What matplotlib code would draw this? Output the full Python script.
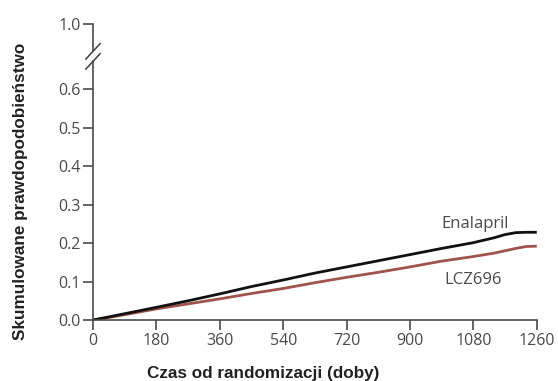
import numpy as np
import matplotlib.pyplot as plt

# time since randomization (days) and cumulative probability
days = [0, 60, 120, 180, 270, 360, 450, 540, 630, 720, 810, 900, 990, 1080, 1140, 1170, 1200, 1230, 1260]
enalapril = [0, 0.011, 0.022, 0.033, 0.050, 0.068, 0.087, 0.104, 0.122, 0.138, 0.154, 0.170,
             0.186, 0.201, 0.214, 0.222, 0.227, 0.228, 0.228]
lcz696 = [0, 0.009, 0.019, 0.029, 0.042, 0.055, 0.069, 0.082, 0.097, 0.111, 0.124, 0.138,
          0.153, 0.165, 0.174, 0.180, 0.186, 0.191, 0.192]

xticks = [0, 180, 360, 540, 720, 900, 1080, 1260]
yticks = [0.0, 0.1, 0.2, 0.3, 0.4, 0.5, 0.6]
top_pos = 0.769   # where the "1.0" label sits after the axis break
brk_pos = 0.685

tick_col = '#4a4a4a'
tick_font = 'Open Sans'

fig = plt.figure(figsize=(5.58, 3.81), dpi=100)
ax = fig.add_axes([0.1667, 0.160, 0.7953, 0.777])

ax.plot(days, lcz696, color='#a0524c', lw=2.0, solid_capstyle='butt')
ax.plot(days, enalapril, color='#111111', lw=2.0, solid_capstyle='butt')

ax.set_xlim(0, 1260)
ax.set_ylim(0, top_pos)
ax.set_xticks(xticks)
ax.set_xticklabels([str(t) for t in xticks])
ax.set_yticks(yticks + [top_pos])
ax.set_yticklabels([f'{v:.1f}' for v in yticks] + ['1.0'])

for s in ['top', 'right', 'left']:
    ax.spines[s].set_visible(False)
ax.spines['bottom'].set_color(tick_col)
ax.spines['bottom'].set_linewidth(1.2)

# left spine with a break
g1 = (brk_pos - 0.013) / top_pos
g2 = (brk_pos + 0.013) / top_pos
ax.plot([0, 0], [0, g1], transform=ax.transAxes, color=tick_col, lw=1.2, clip_on=False)
ax.plot([0, 0], [g2, 1], transform=ax.transAxes, color=tick_col, lw=1.2, clip_on=False)
for off in (-0.013, 0.013):
    yc = (brk_pos + off) / top_pos
    ax.plot([-0.016, 0.016], [yc - 0.026, yc + 0.026], transform=ax.transAxes,
            color=tick_col, lw=1.2, clip_on=False)

ax.tick_params(axis='both', direction='out', length=7, width=1.2, color=tick_col,
               labelcolor=tick_col, labelsize=11.5, pad=2)
for lab in ax.get_xticklabels() + ax.get_yticklabels():
    lab.set_family(tick_font)

ax.text(1084, 0.249, 'Enalapril', ha='center', va='center', fontsize=12,
        color=tick_col, family=tick_font)
ax.text(1078, 0.104, 'LCZ696', ha='center', va='center', fontsize=12,
        color=tick_col, family=tick_font)

ax.set_xlabel('Czas od randomizacji (doby)', family='Liberation Sans', fontsize=12.3,
              fontweight='bold', color='#222222')
ax.set_ylabel('Skumulowane prawdopodobieństwo', family='Liberation Sans', fontsize=12.3,
              fontweight='bold', color='#222222')
ax.xaxis.set_label_coords(0.383, -0.155)
ax.yaxis.set_label_coords(-0.146, 0.434)

fig.savefig('out.png', dpi=100)
